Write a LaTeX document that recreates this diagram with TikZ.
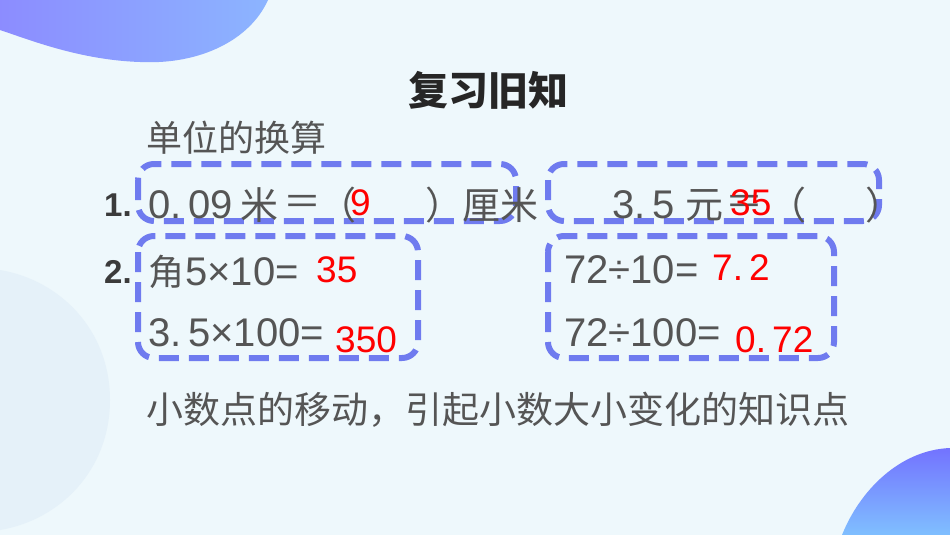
\documentclass[tikz,border=0pt]{standalone}
\usepackage{fontspec}
\setmainfont{Noto Sans CJK SC}
\setsansfont{Liberation Sans}
\begin{document}
\begin{tikzpicture}[x=1pt,y=-1pt,
  dbox/.style={draw=boxc,line width=6pt,dash pattern=on 20pt off 10pt,rounded corners=16pt},
  txt/.style={text=txtc,font=\fontsize{36}{38}\selectfont,inner sep=0pt,anchor=west},
  cjk/.style={text=txtc,font=\fontsize{38}{40}\selectfont,inner sep=0pt,anchor=west},
  dig/.style={text=txtc,font=\sffamily\fontsize{40}{42}\selectfont,inner sep=0pt,anchor=west},
  ans/.style={text=red,font=\sffamily\fontsize{37}{39}\selectfont,inner sep=0pt,anchor=west},
  num/.style={text=txtc!70!black,font=\sffamily\bfseries\fontsize{33}{35}\selectfont,inner sep=0pt,anchor=west}]
\definecolor{boxc}{HTML}{6F7BEF}
\definecolor{txtc}{HTML}{555555}
\definecolor{bg}{HTML}{EEF8FC}
\fill[bg] (0,0) rectangle (950,535);
\useasboundingbox (0,0) rectangle (950,535);
% blobs
\shade[left color=blue!45!white,right color=cyan!35!blue!45!white] (0,0) -- (268,0) .. controls (250,40) and (200,65) .. (140,62) .. controls (80,60) and (30,40) .. (0,30) -- cycle;
\fill[cyan!4!bg] (0,270) .. controls (60,280) and (110,330) .. (110,400) .. controls (110,470) and (60,520) .. (0,530) -- cycle;
\shade[top color=blue!55!white,bottom color=cyan!50!blue!50!white] (950,448) .. controls (900,450) and (860,490) .. (842,535) -- (950,535) -- cycle;
% title
\node[font=\bfseries\fontsize{40}{42}\selectfont,text=black!85,inner sep=0pt] (title) at (488,90) {复习旧知};
\node[txt] (sub) at (146,138) {单位的换算};
% boxes
\draw[dbox] (138,164) rectangle (516,221);
\draw[dbox] (548,164) rectangle (879,221);
\draw[dbox] (138,236) rectangle (418,358);
\draw[dbox] (548,236) rectangle (834,358);
% row 1
\node[num] (n1) at (104,205) {1.};
\node[dig] (a1) at (148,205) {0.\,09};
\node[cjk] (a2) at (240,205) {米};
\node[cjk] (a2b) at (283,205) {＝};
\node[cjk] (a2c) at (318,205) {（};
\node[cjk] (a3) at (425,205) {）};
\node[cjk] (a4) at (462,205) {厘米};
\node[ans] (r1) at (350,203) {9};
\node[dig] (b1) at (612,205) {3.\,5};
\node[cjk] (b2) at (685,205) {元};
\node[cjk] (b2b) at (725,205) {＝};
\node[cjk] (b2c) at (768,205) {（};
\node[cjk] (b3) at (865,205) {）};
\node[ans] (r2) at (730,203) {35};
% row 2
\node[num] (n2) at (104,272) {2.};
\node[txt] (c0) at (148,272) {角};
\node[dig] (c1) at (185,272) {5×10=};
\node[ans] (r3) at (316,270) {35};
\node[dig] (c2) at (148,333) {3.\,5×100=};
\node[ans] (r4) at (335,340) {350};
\node[dig] (d1) at (564,270) {72÷10=};
\node[ans] (r5) at (712,268) {7.\,2};
\node[dig] (d2) at (564,333) {72÷100=};
\node[ans] (r6) at (735,340) {0.\,72};
% bottom line
\node[txt,font=\fontsize{37}{39}\selectfont] (bot) at (146,410) {小数点的移动，引起小数大小变化的知识点};
\end{tikzpicture}
\end{document}
